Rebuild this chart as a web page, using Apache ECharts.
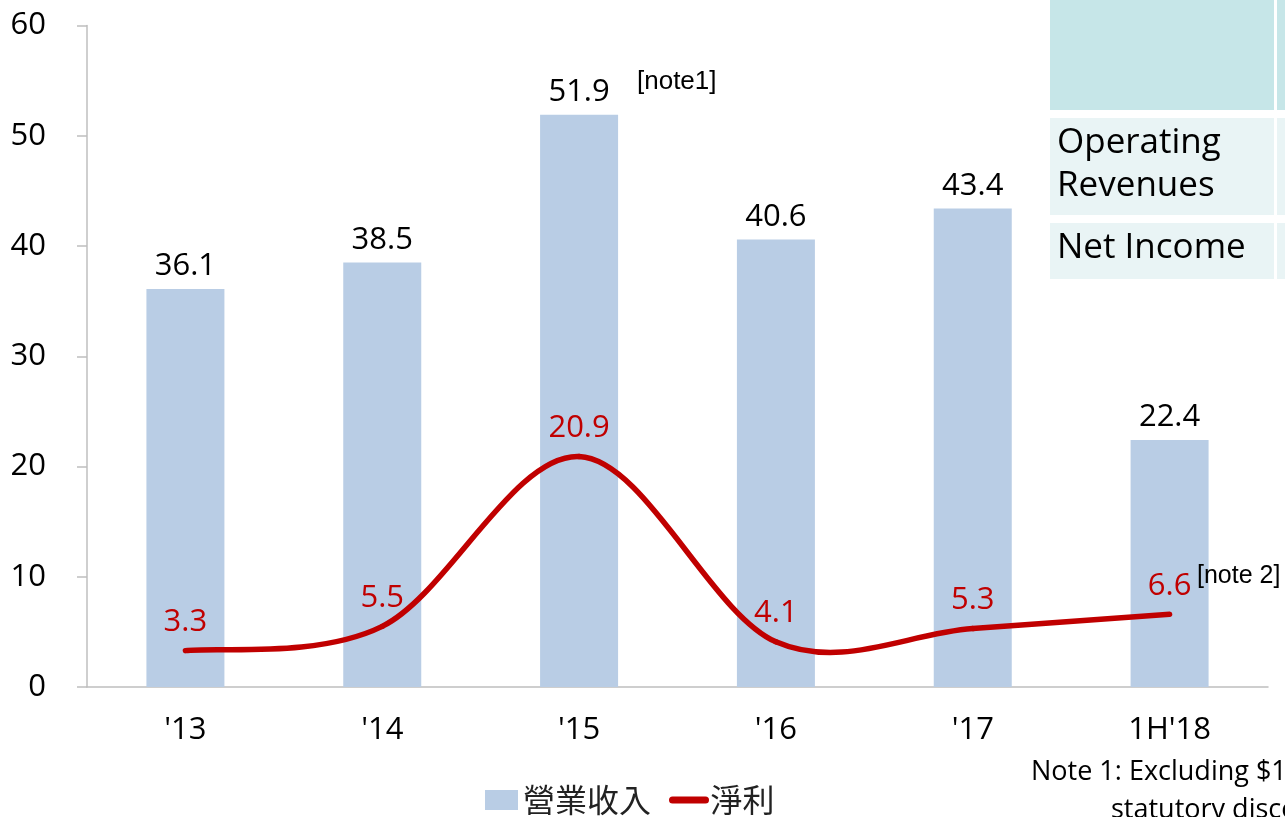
<!DOCTYPE html>
<html>
<head>
<meta charset="utf-8">
<script src="https://cdn.jsdelivr.net/npm/echarts@6/dist/echarts.min.js"></script>
<style>
  html, body { margin: 0; padding: 0; background: #fff; }
  #main { width: 1285px; height: 817px; }
</style>
</head>
<body>
<div id="main"></div>
<script>
    var years = ["'13", "'14", "'15", "'16", "'17", "1H'18"];
    var revenue = [36.1, 38.5, 51.9, 40.6, 43.4, 22.4];
    var netIncome = [3.3, 5.5, 20.9, 4.1, 5.3, 6.6];
    var yTicks = [0, 60, 10];   // min, max, interval

    var numFont = '"Open Sans", sans-serif';
    var red = '#c00000';

    // excel style smoothed line: catmull-rom segments through the data points
    function renderCurve(params, api) {
        var i = params.dataIndex;
        var n = netIncome.length;
        if (i >= n - 1) return;
        var pt = function (k) {
            k = Math.max(0, Math.min(n - 1, k));
            return api.coord([k, netIncome[k]]);
        };
        var p0 = pt(i - 1), p1 = pt(i), p2 = pt(i + 1), p3 = pt(i + 2);
        return {
            type: 'bezierCurve',
            shape: {
                x1: p1[0], y1: p1[1], x2: p2[0], y2: p2[1],
                cpx1: p1[0] + (p2[0] - p0[0]) / 6, cpy1: p1[1] + (p2[1] - p0[1]) / 6,
                cpx2: p2[0] - (p3[0] - p1[0]) / 6, cpy2: p2[1] - (p3[1] - p1[1]) / 6
            },
            style: { stroke: red, lineWidth: 5.5, fill: 'none', lineCap: 'round' }
        };
    }

    var option = {
        animation: false,
        grid: { left: 87, right: 17, top: 25.5, bottom: 130 },
        legend: {
            left: 485, top: 784, padding: 0,
            itemGap: 18, itemWidth: 33, itemHeight: 20,
            textStyle: { fontFamily: 'Noto Sans CJK TC', fontSize: 32, color: '#222' },
            data: [
                { name: '營業收入', icon: 'rect' },
                { name: '淨利', itemStyle: { opacity: 0 },
                  lineStyle: { color: red, width: 7, opacity: 1, cap: 'round' } }
            ]
        },
        xAxis: {
            type: 'category',
            data: years,
            axisLine: { lineStyle: { color: '#bfbfbf', width: 1.5 } },
            axisTick: { length: 10, lineStyle: { color: '#bfbfbf', width: 1.5 } },
            axisLabel: { fontFamily: numFont, fontSize: 31, color: '#000', margin: 28 }
        },
        yAxis: {
            type: 'value',
            min: yTicks[0], max: yTicks[1], interval: yTicks[2],
            splitLine: { show: false },
            axisLine: { show: true, lineStyle: { color: '#bfbfbf', width: 1.5 } },
            axisTick: { show: true, length: 10, lineStyle: { color: '#bfbfbf', width: 1.5 } },
            axisLabel: { fontFamily: numFont, fontSize: 31, color: '#000', margin: 41 }
        },
        series: [
            {
                name: '營業收入',
                type: 'bar',
                data: revenue,
                barWidth: 78,
                itemStyle: { color: '#b9cde5' },
                label: {
                    show: true, position: 'top', distance: 7,
                    fontFamily: numFont, fontSize: 31, color: '#000'
                }
            },
            {
                // carries the labels and the legend entry, the curve itself is the custom series
                name: '淨利',
                type: 'line',
                data: netIncome,
                symbol: 'circle',
                symbolSize: 0,
                itemStyle: { color: red },
                lineStyle: { color: red, width: 5.5, opacity: 0 },
                label: {
                    show: true, position: 'top', distance: 13,
                    fontFamily: numFont, fontSize: 31, color: red
                },
                z: 6
            },
            {
                name: 'curve',
                type: 'custom',
                data: netIncome.map(function (v, i) { return [i, v]; }),
                renderItem: renderCurve,
                silent: true,
                z: 5
            }
        ],
        graphic: [
            { type: 'rect', shape: { x: 1050, y: 0, width: 224, height: 110 }, style: { fill: '#c6e6e8' } },
            { type: 'rect', shape: { x: 1277, y: 0, width: 10, height: 110 }, style: { fill: '#c6e6e8' } },
            { type: 'rect', shape: { x: 1050, y: 118, width: 224, height: 97 }, style: { fill: '#e9f4f5' } },
            { type: 'rect', shape: { x: 1277, y: 118, width: 10, height: 97 }, style: { fill: '#e9f4f5' } },
            { type: 'rect', shape: { x: 1050, y: 223, width: 224, height: 56 }, style: { fill: '#e9f4f5' } },
            { type: 'rect', shape: { x: 1277, y: 223, width: 10, height: 56 }, style: { fill: '#e9f4f5' } },
            { type: 'text', z: 20, style: { x: 1057, y: 143, text: 'Operating', font: '35px "Open Sans"', fill: '#000', verticalAlign: 'middle' } },
            { type: 'text', z: 20, style: { x: 1057, y: 186, text: 'Revenues', font: '35px "Open Sans"', fill: '#000', verticalAlign: 'middle' } },
            { type: 'text', z: 20, style: { x: 1057, y: 248, text: 'Net Income', font: '35px "Open Sans"', fill: '#000', verticalAlign: 'middle' } },
            { type: 'text', z: 20, style: { x: 637, y: 82, text: '[note1]', font: '26px "Liberation Sans"', fill: '#000', verticalAlign: 'middle' } },
            { type: 'text', z: 20, style: { x: 1197, y: 576, text: '[note 2]', font: '25px "Liberation Sans"', fill: '#000', verticalAlign: 'middle' } },
            { type: 'text', z: 20, style: { x: 1031, y: 772, text: 'Note 1: Excluding $1', font: '27px "Open Sans"', fill: '#000', verticalAlign: 'middle' } },
            { type: 'text', z: 20, style: { x: 1111, y: 810, text: 'statutory disco', font: '27px "Open Sans"', fill: '#000', verticalAlign: 'middle' } }
        ]
    };

    echarts.init(document.getElementById('main')).setOption(option);
</script>
</body>
</html>
